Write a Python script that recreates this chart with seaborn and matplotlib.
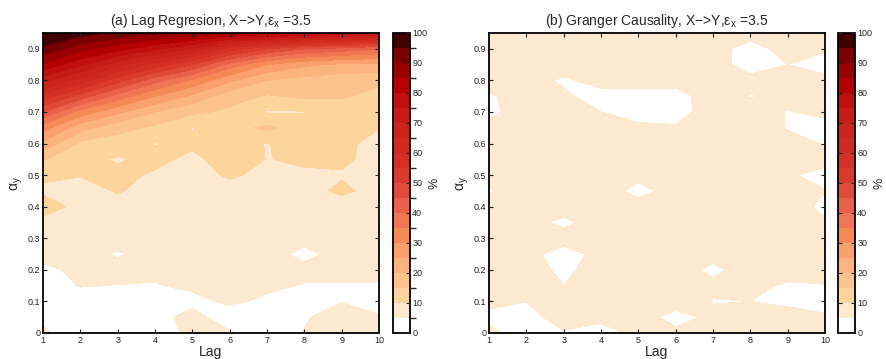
import numpy as np
import matplotlib
matplotlib.use("Agg")
import matplotlib.pyplot as plt
import seaborn as sns
from matplotlib.colors import ListedColormap, BoundaryNorm

# ---------------- data ----------------
lags = [1, 2, 3, 4, 5, 6, 7, 8, 9, 10]
alpha_y = [0.00, 0.05, 0.10, 0.15, 0.20, 0.25, 0.30, 0.35, 0.40, 0.45,
           0.50, 0.55, 0.60, 0.65, 0.70, 0.75, 0.80, 0.85, 0.90, 0.95]

# percent, rows = alpha_y, columns = lags
lag_regression_pct = [
    [5.5, 3, 3, 3, 6, 5.5, 3, 5.2, 4.8, 5.5],
    [4.5, 3, 3, 3, 7, 2, 3, 4.5, 7.5, 5.5],
    [3, 3, 3, 3, 3.5, 6, 4, 3, 4.8, 3],
    [3, 5.2, 4.9, 4.7, 6, 7, 6, 4.7, 4.6, 4.6],
    [4, 6, 6.5, 6, 7, 7.5, 7, 6.5, 6.5, 6.5],
    [6.5, 7, 4.5, 7, 7.5, 7.5, 7, 3.5, 7, 7],
    [7, 7, 7, 7.5, 7.5, 7.5, 7.5, 7, 7, 7],
    [8, 7.5, 7.5, 7.5, 8, 8, 7.5, 7.5, 7.5, 7.5],
    [13, 8, 8.5, 8, 8, 8, 8, 8, 8, 8],
    [9, 8.5, 10.3, 8.5, 8.5, 8.5, 8.5, 8.5, 10.8, 8.5],
    [11, 10.2, 11, 9.5, 8.5, 10.5, 9, 9.5, 9.6, 8.5],
    [15.5, 11, 9.6, 11, 9, 12, 9.9, 10.5, 10.8, 8.5],
    [24, 14, 12, 9.8, 10.8, 12, 9.8, 12, 11.5, 8],
    [32, 22, 17, 14, 9.7, 13, 16, 12.5, 12, 10.2],
    [45, 33, 26, 20, 16, 14, 9.5, 9.7, 12.5, 12],
    [58, 48, 38, 30, 24, 17, 14.5, 16, 15.5, 13.5],
    [72, 63, 52, 42, 34, 26, 20, 18, 17, 16],
    [84, 76, 67, 58, 50, 38, 30, 26, 24, 24],
    [94, 87, 82, 76, 70, 58, 50, 45, 43, 40],
    [100, 97, 94, 91, 89, 86, 83, 80, 78, 75],
]

granger_pct = [
    [6, 3, 4.5, 3.5, 6, 6, 7, 7, 7, 7],
    [4, 3, 7.5, 6, 7, 3.5, 6, 6.5, 6, 5.7],
    [6, 5.05, 7, 7, 7, 7, 4.8, 5.0, 4.5, 3],
    [7, 7, 5.05, 7, 7, 7, 6, 6, 4.5, 4.9],
    [4.9, 7, 4, 7, 7, 7, 4, 7, 6.5, 6],
    [7, 6.5, 3, 6.5, 7, 7, 6.5, 7, 7, 7],
    [7, 7, 7, 7, 7, 7, 7, 7, 7, 7],
    [7, 6.5, 4, 7, 7, 7, 7, 7, 7, 5.5],
    [7, 7, 7, 7, 6.5, 7, 7, 7, 7, 4],
    [4.8, 5.4, 7, 7, 3.8, 6.5, 7, 7, 7, 5.2],
    [7, 7, 7, 7, 6, 7, 7, 7, 5.6, 3.5],
    [7, 7, 7, 7, 7, 7, 7, 7, 7, 6.5],
    [7, 7, 7, 7, 7, 7, 7, 7, 6, 4.8],
    [6, 7, 7, 7, 6, 5.5, 7, 7, 4.8, 3.5],
    [4, 7, 7, 5.05, 3, 3, 7.5, 7, 4.8, 6],
    [4.5, 7, 5.6, 3.5, 3.5, 3.5, 7, 4.8, 6, 7],
    [7, 7, 4.4, 6.5, 6.5, 6.5, 7, 6, 6, 6],
    [7, 7, 7, 7, 7, 7, 6.5, 3.5, 5.02, 3.5],
    [7, 7, 7, 7, 7, 7, 6, 4, 6, 5.5],
    [7, 7, 7, 7, 7, 7, 7, 6, 7, 7],
]

titles = [r"(a) Lag Regresion, X$-$>Y,$\varepsilon_{x}$ =3.5",
          r"(b) Granger Causality, X$-$>Y,$\varepsilon_{x}$ =3.5"]
levels = list(range(0, 105, 5))
band_colors = ["#ffffff", "#fde8d0", "#fdd49c", "#fcc48c", "#fbb47e",
               "#f9a06c", "#f68a56", "#f07552", "#ea6048", "#e24a38",
               "#d93a2b", "#d53026", "#d02a20", "#cc241b", "#c71c16",
               "#c10f0e", "#b50000", "#9a0000", "#7a0000", "#420000"]
yticks = [0, 0.1, 0.2, 0.3, 0.4, 0.5, 0.6, 0.7, 0.8, 0.9]
ytick_labels = ["0", "0.1", "0.2", "0.3", "0.4", "0.5", "0.6", "0.7", "0.8", "0.9"]
cbar_ticks = list(range(0, 101, 10))

# ---------------- style ----------------
sns.set_theme(style="ticks")
plt.rcParams['font.family'] = ['Liberation Sans', 'DejaVu Sans']
plt.rcParams['mathtext.fontset'] = 'custom'
plt.rcParams['mathtext.rm'] = 'Liberation Sans'
plt.rcParams['mathtext.it'] = 'Liberation Sans'
plt.rcParams['mathtext.bf'] = 'Liberation Sans:bold'
plt.rcParams['mathtext.default'] = 'regular'

cmap = ListedColormap(sns.color_palette(band_colors))
norm = BoundaryNorm(levels, cmap.N)

fig = plt.figure(figsize=(8.86, 3.59), dpi=100)
W, H = 886.0, 359.0
ax_boxes = [(43, 33, 379, 333), (489, 33, 825, 333)]
cb_boxes = [(392.5, 33, 409.5, 333), (837.5, 33, 854.5, 333)]

for k, Z in enumerate([lag_regression_pct, granger_pct]):
    x0, y0, x1, y1 = ax_boxes[k]
    ax = fig.add_axes([x0 / W, 1 - y1 / H, (x1 - x0) / W, (y1 - y0) / H])
    cs = ax.contourf(lags, alpha_y, np.array(Z), levels=levels, cmap=cmap, norm=norm)
    ax.set_xlim(1, 10)
    ax.set_ylim(0, 0.95)
    ax.set_xticks(lags)
    ax.set_xticklabels([str(v) for v in lags])
    ax.set_yticks(yticks)
    ax.set_yticklabels(ytick_labels)
    ax.minorticks_off()
    ax.set_axisbelow(False)
    ax.tick_params(direction='in', top=True, right=True, length=3, width=0.8,
                   labelsize=6.5, colors='#222222', pad=2)
    for s in ax.spines.values():
        s.set_linewidth(1.3)
        s.set_color('black')
    ax.set_title(titles[k], fontsize=10, pad=6)
    ax.set_xlabel("Lag", fontsize=10, labelpad=0)
    ax.set_ylabel(r"$\alpha_{y}$", fontsize=10, labelpad=2)

    cx0, cy0, cx1, cy1 = cb_boxes[k]
    cax = fig.add_axes([cx0 / W, 1 - cy1 / H, (cx1 - cx0) / W, (cy1 - cy0) / H])
    cb = fig.colorbar(cs, cax=cax, ticks=cbar_ticks)
    cb.ax.minorticks_off()
    cb.ax.set_axisbelow(False)
    cb.ax.yaxis.set_zorder(10)
    cb.ax.tick_params(direction='in', left=True, right=True, length=3,
                      width=0.8, labelsize=6.5, colors='#222222', pad=2)
    cb.outline.set_linewidth(1.3)
    cb.outline.set_edgecolor('black')
    cb.set_label("%", fontsize=9, labelpad=1)

fig.savefig("out.png", dpi=100)
